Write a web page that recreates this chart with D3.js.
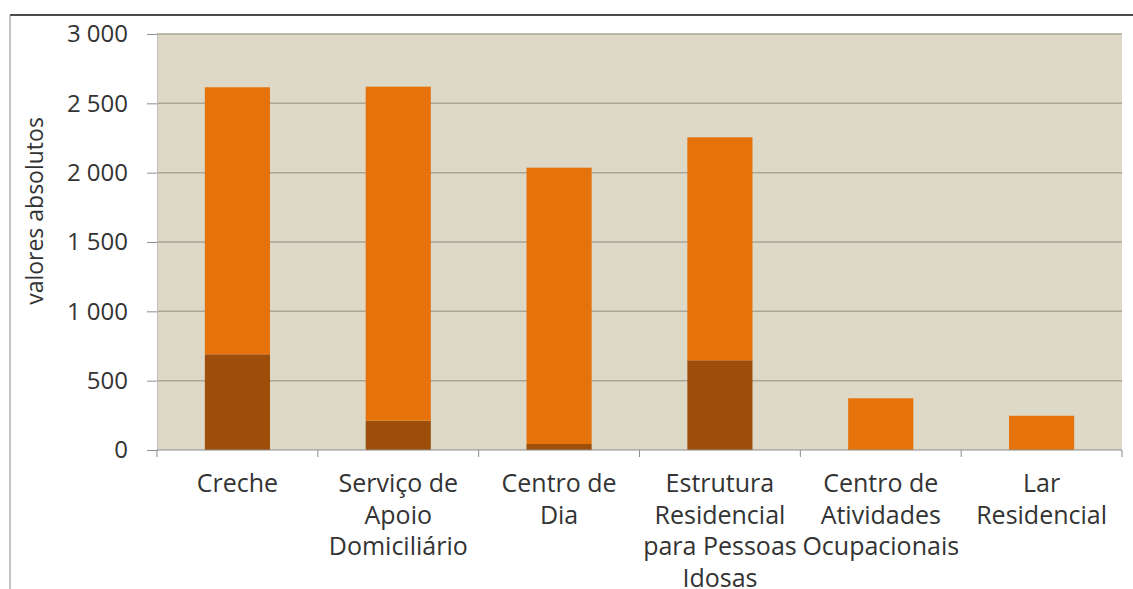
<!DOCTYPE html>
<html>
<head>
<meta charset="utf-8">
<script src="https://cdn.jsdelivr.net/npm/d3@7"></script>
<style>
  body { margin: 0; background: #fff; }
  svg { display: block; font-family: "Open Sans", sans-serif; }
</style>
</head>
<body>
<svg width="1133" height="589"></svg>
<script>
// categories, each label split into its wrapped lines
const categories = ["Creche", "Serviço de Apoio Domiciliário", "Centro de Dia",
  "Estrutura Residencial para Pessoas Idosas", "Centro de Atividades Ocupacionais", "Lar Residencial"];
const categoryLines = [
  ["Creche"],
  ["Serviço de", "Apoio", "Domiciliário"],
  ["Centro de", "Dia"],
  ["Estrutura", "Residencial", "para Pessoas", "Idosas"],
  ["Centro de", "Atividades", "Ocupacionais"],
  ["Lar", "Residencial"]
];
// lower (dark) segment and upper (orange) segment of each bar
const lowerValues = [690, 211, 43, 647, 0, 0];
const upperValues = [1926, 2409, 1993, 1608, 373, 247];
const yTicks = [0, 500, 1000, 1500, 2000, 2500, 3000];
const yTitle = "valores absolutos";

const margin = { top: 34, right: 11, bottom: 139, left: 157 };
const width = 1133 - margin.left - margin.right;
const height = 589 - margin.top - margin.bottom;

const svg = d3.select("svg");

// frame lines of the original picture
svg.append("line").attr("x1", 10).attr("x2", 1133).attr("y1", 15).attr("y2", 15)
  .attr("stroke", "#4a4a4a").attr("stroke-width", 2);
svg.append("line").attr("x1", 10).attr("x2", 10).attr("y1", 15).attr("y2", 589)
  .attr("stroke", "#8a8a8a").attr("stroke-width", 1);

const g = svg.append("g").attr("transform", `translate(${margin.left},${margin.top})`);

g.append("rect").attr("width", width).attr("height", height).attr("fill", "#ded9c6");

const x = d3.scaleBand().domain(categories).range([0, width]).paddingInner(0).paddingOuter(0);
const y = d3.scaleLinear().domain([0, 3000]).range([height, 0]);

// gridlines
g.selectAll(".grid").data(yTicks.slice(1)).enter().append("line")
  .attr("x1", 0).attr("x2", width)
  .attr("y1", d => y(d)).attr("y2", d => y(d))
  .attr("stroke", "#a9a597").attr("stroke-width", 1.5);

const rows = categories.map((c, i) => ({ cat: c, lower: lowerValues[i], upper: upperValues[i] }));
const stack = d3.stack().keys(["lower", "upper"])(rows);
const colors = { lower: "#9c4e0a", upper: "#e5720b" };
const barW = x.bandwidth() * 0.405;

g.selectAll(".series").data(stack).enter().append("g")
  .attr("fill", d => colors[d.key])
  .selectAll("rect").data(d => d).enter().append("rect")
  .attr("x", d => x(d.data.cat) + (x.bandwidth() - barW) / 2)
  .attr("y", d => y(d[1]))
  .attr("width", barW)
  .attr("height", d => y(d[0]) - y(d[1]));

// y axis
const yAxis = g.append("g").call(d3.axisLeft(y).tickValues(yTicks).tickSize(10).tickPadding(19)
  .tickFormat(d => d3.format(",")(d).replace(",", " ")));
yAxis.select(".domain").attr("stroke", "#bdbdbd");
yAxis.selectAll(".tick line").attr("stroke", "#8c8c8c");
yAxis.selectAll("text").attr("font-size", 24).attr("fill", "#333")
  .attr("font-family", "Open Sans, sans-serif");

// x axis: ticks at band boundaries
const xAxisG = g.append("g").attr("transform", `translate(0,${height})`);
xAxisG.append("line").attr("x1", 0).attr("x2", width).attr("stroke", "#8c8c8c");
const bounds = categories.map(c => x(c)).concat([width]);
xAxisG.selectAll(".xt").data(bounds).enter().append("line")
  .attr("x1", d => d).attr("x2", d => d).attr("y1", 0).attr("y2", 7)
  .attr("stroke", "#8c8c8c");

const labels = xAxisG.selectAll(".xl").data(categories).enter().append("text")
  .attr("text-anchor", "middle")
  .attr("font-size", 25).attr("fill", "#333")
  .attr("transform", d => `translate(${x(d) + x.bandwidth() / 2},42)`);
labels.selectAll("tspan").data((d, i) => categoryLines[i]).enter().append("tspan")
  .attr("x", 0).attr("y", (d, i) => i * 31.5).text(d => d);

// y title
svg.append("text")
  .attr("transform", "translate(43,211) rotate(-90)")
  .attr("text-anchor", "middle").attr("font-size", 23).attr("fill", "#333")
  .text(yTitle);
</script>
</body>
</html>
